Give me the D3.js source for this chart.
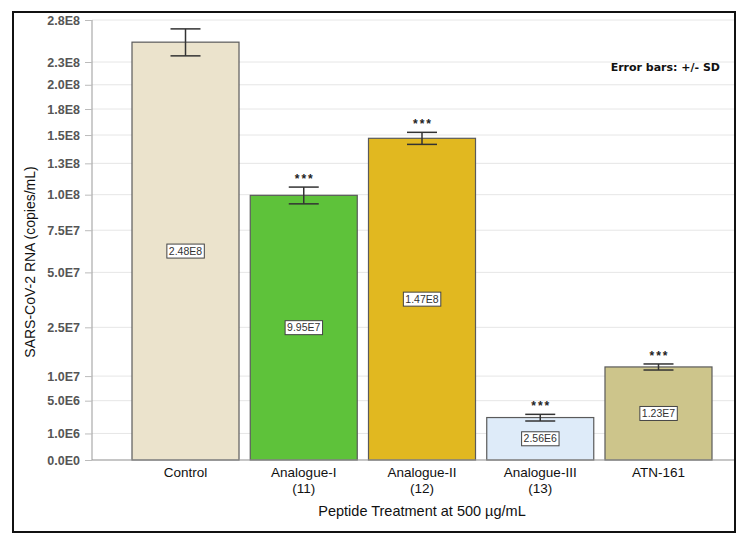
<!DOCTYPE html>
<html>
<head>
<meta charset="utf-8">
<script src="https://cdn.jsdelivr.net/npm/d3@7"></script>
<style>
  body { margin: 0; background: #fff; }
  svg { display: block; font-family: "Liberation Sans", Arial, sans-serif; }
</style>
</head>
<body>
<div id="chart"></div>
<script>
const categories = ["Control", "Analogue-I\n(11)", "Analogue-II\n(12)", "Analogue-III\n(13)", "ATN-161"];
const means = [2.48e8, 9.95e7, 1.47e8, 2.56e6, 1.23e7];
const sds = [1.6e7, 6.3e6, 5.5e6, 4.0e5, 8.0e5];
const stars = ["", "***", "***", "***", "***"];
const colors = ["#ebe3cc", "#5ec23a", "#e1b820", "#deebf9", "#cdc58b"];
const yTicks = [0, 1e6, 5e6, 1e7, 2.5e7, 5e7, 7.5e7, 1e8, 1.25e8, 1.5e8, 1.75e8, 2e8, 2.25e8, 2.75e8];
const yTickLabels = ["0.0E0", "1.0E6", "5.0E6", "1.0E7", "2.5E7", "5.0E7", "7.5E7", "1.0E8", "1.3E8", "1.5E8", "1.8E8", "2.0E8", "2.3E8", "2.8E8"];

const width = 744, height = 540;
const plot = { left: 92, right: 735, top: 20, bottom: 460 };

const svg = d3.select("#chart").append("svg")
  .attr("width", width)
  .attr("height", height);

const x = d3.scaleBand()
  .domain(categories)
  .range([132, 712])
  .paddingInner(0.095)
  .paddingOuter(0);

const y = d3.scaleSqrt()
  .domain([0, 2.75e8])
  .range([plot.bottom, plot.top]);

const fmt = v => v.toExponential(2).toUpperCase().replace("+", "");

// grid
svg.append("g")
  .selectAll("line")
  .data(yTicks)
  .join("line")
  .attr("x1", plot.left)
  .attr("x2", plot.right)
  .attr("y1", d => y(d))
  .attr("y2", d => y(d))
  .attr("stroke", "#e6e6e6")
  .attr("stroke-width", 1);

// y axis
const yAxis = d3.axisLeft(y)
  .tickValues(yTicks)
  .tickFormat((d, i) => yTickLabels[i])
  .tickSize(7)
  .tickPadding(5);

svg.append("g")
  .attr("transform", `translate(${plot.left},0)`)
  .call(yAxis)
  .call(g => g.select(".domain").attr("stroke", "#999").attr("d", `M0,${plot.top}V${plot.bottom}`))
  .call(g => g.selectAll(".tick line").attr("stroke", "#bbb"))
  .call(g => g.selectAll(".tick text")
    .attr("fill", "#555")
    .attr("font-size", 12.5)
    .attr("font-weight", "bold")
    .attr("font-family", "Liberation Sans, Arial, sans-serif"));

// bars
const bars = svg.append("g");
bars.selectAll("rect")
  .data(means)
  .join("rect")
  .attr("x", (d, i) => x(categories[i]))
  .attr("y", d => y(d))
  .attr("width", x.bandwidth())
  .attr("height", d => plot.bottom - y(d))
  .attr("fill", (d, i) => colors[i])
  .attr("stroke", "#5a5a5a")
  .attr("stroke-width", 1.2);

// x baseline
svg.append("line")
  .attr("x1", plot.left)
  .attr("x2", plot.right)
  .attr("y1", plot.bottom)
  .attr("y2", plot.bottom)
  .attr("stroke", "#999");

// error bars
const capW = 15;
const err = svg.append("g").attr("stroke", "#333").attr("stroke-width", 1.5);
means.forEach((m, i) => {
  const cx = x(categories[i]) + x.bandwidth() / 2;
  const hi = y(m + sds[i]);
  const lo = y(m - sds[i]);
  err.append("line").attr("x1", cx).attr("x2", cx).attr("y1", hi).attr("y2", lo);
  err.append("line").attr("x1", cx - capW).attr("x2", cx + capW).attr("y1", hi).attr("y2", hi);
  err.append("line").attr("x1", cx - capW).attr("x2", cx + capW).attr("y1", lo).attr("y2", lo);

  if (stars[i]) {
    svg.append("text")
      .attr("x", cx + 1)
      .attr("y", hi - 4)
      .attr("text-anchor", "middle")
      .attr("font-size", 12)
      .attr("font-weight", "bold")
      .attr("letter-spacing", 2)
      .attr("fill", "#222")
      .text(stars[i]);
  }

  // value label box
  const my = (y(m) + plot.bottom) / 2;
  const lbl = svg.append("g").attr("transform", `translate(${cx},${my})`);
  const t = lbl.append("text")
    .attr("text-anchor", "middle")
    .attr("dy", "0.35em")
    .attr("font-size", 10.5)
    .attr("fill", "#333")
    .text(fmt(m));
  const bb = t.node().getBBox();
  lbl.insert("rect", "text")
    .attr("x", bb.x - 2)
    .attr("y", -7)
    .attr("width", bb.width + 4)
    .attr("height", 14)
    .attr("fill", "#fff")
    .attr("stroke", "#444")
    .attr("stroke-width", 1);
});

// category labels
const catG = svg.append("g");
categories.forEach(c => {
  const cx = x(c) + x.bandwidth() / 2;
  c.split("\n").forEach((line, j) => {
    catG.append("text")
      .attr("x", cx)
      .attr("y", 477 + j * 15.5)
      .attr("text-anchor", "middle")
      .attr("font-size", 13.5)
      .attr("fill", "#111")
      .text(line);
  });
});

// axis titles
svg.append("text")
  .attr("x", (132 + 712) / 2)
  .attr("y", 516)
  .attr("text-anchor", "middle")
  .attr("font-size", 14.5)
  .attr("fill", "#111")
  .text("Peptide Treatment at 500 µg/mL");

svg.append("text")
  .attr("transform", `translate(35,${(plot.top + plot.bottom) / 2 + 22}) rotate(-90)`)
  .attr("text-anchor", "middle")
  .attr("font-size", 14)
  .attr("fill", "#111")
  .text("SARS-CoV-2 RNA (copies/mL)");

svg.append("text")
  .attr("x", 720)
  .attr("y", 71)
  .attr("text-anchor", "end")
  .attr("font-size", 11)
  .attr("font-weight", "bold")
  .attr("font-family", "DejaVu Sans, sans-serif")
  .attr("fill", "#111")
  .text("Error bars: +/- SD");

// frame
svg.append("rect")
  .attr("x", 13)
  .attr("y", 12)
  .attr("width", 722)
  .attr("height", 520)
  .attr("fill", "none")
  .attr("stroke", "#111")
  .attr("stroke-width", 2);
</script>
</body>
</html>
